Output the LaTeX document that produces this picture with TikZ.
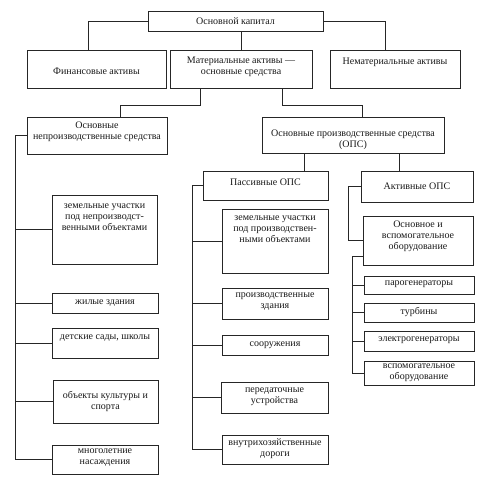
\documentclass[tikz,border=0pt]{standalone}
\usepackage{fontspec}
\setmainfont{Liberation Serif}
\tikzset{
 box/.style={draw=black!85, line width=0.8pt, inner sep=0pt, anchor=center},
 lbl/.style={font=\fontsize{10}{11}\selectfont, align=center, inner sep=0pt, text=black!90},
 conn/.style={draw=black!85, line width=0.7pt},
}
\newcommand\mybox[7]{%
 \node[box, minimum width={#4-#2}, minimum height={#5-#3}] (#1) at ({(#2+#4)/2},{(#3+#5)/2}) {};
 \node[lbl] (#1t) at ({(#2+#4)/2},#6) {#7};}
\begin{document}
\begin{tikzpicture}[x=1pt,y=-1pt]
\fill[white] (0,0) rectangle (498,483);
\useasboundingbox (0,0) rectangle (498,483);
\mybox{top}{148}{11}{323}{31}{21}{Основной капитал}
\mybox{fin}{27}{50}{166}{88}{71}{Финансовые активы}
\mybox{mat}{170}{50}{312}{88}{66.5}{Материальные активы —\\основные средства}
\mybox{neh}{330}{50}{460}{88}{62}{Нематериальные активы}
\mybox{nep}{27}{117}{167}{154}{132}{Основные\\непроизводственные средства}
\mybox{ops}{262}{117}{444}{153}{139.5}{Основные производственные средства\\(ОПС)}
\mybox{pas}{203}{171}{328}{200}{182}{Пассивные ОПС}
\mybox{act}{361}{171}{473}{202}{186}{Активные ОПС}
\mybox{zem1}{52}{195}{157}{264}{217.5}{земельные участки\\под непроизводст-\\венными объектами}
\mybox{zhil}{52}{293}{158}{313}{303}{жилые здания}
\mybox{det}{52}{328}{158}{358}{338}{детские сады, школы}
\mybox{obj}{53}{380}{158}{423}{401}{объекты культуры и\\спорта}
\mybox{mnog}{52}{445}{158}{474}{457.5}{многолетние\\насаждения}
\mybox{zem2}{222}{209}{328}{273}{229}{земельные участки\\под производствен-\\ными объектами}
\mybox{proiz}{222}{288}{328}{319}{301.5}{производственные\\здания}
\mybox{soor}{222}{335}{328}{355}{345.5}{сооружения}
\mybox{pered}{221}{382}{328}{413}{397}{передаточные\\устройства}
\mybox{vnut}{222}{435}{328}{464}{448.5}{внутрихозяйственные\\дороги}
\mybox{osn}{363}{216}{473}{265}{236}{Основное и\\вспомогательное\\оборудование}
\mybox{par}{364}{276}{474}{294}{284.5}{парогенераторы}
\mybox{tur}{364}{303}{474}{322}{312}{турбины}
\mybox{el}{364}{331}{474}{351}{340.5}{электрогенераторы}
\mybox{vsp}{364}{361}{474}{385}{373}{вспомогательное\\оборудование}
\coordinate (tn) at (15,0);
\coordinate (tp) at (192,0);
\coordinate (ta) at (348,0);
\coordinate (ti) at (352,0);
\draw[conn] (top.west) -| ([xshift=-8.5pt]fin.north);
\draw[conn] (top.east) -| ([xshift=-10pt]neh.north);
\draw[conn] (top.south -| mat.north) -- (mat.north);
\draw[conn] ([xshift=-41pt]mat.south) -- ++(0,17) -| ([xshift=23pt]nep.north);
\draw[conn] ([xshift=41pt]mat.south) -- ++(0,17) -| ([xshift=9pt]ops.north);
\draw[conn] ([xshift=-49pt]ops.south) -- ([xshift=-49pt]ops.south |- pas.north);
\draw[conn] ([xshift=46pt]ops.south) -- ([xshift=46pt]ops.south |- act.north);
\draw[conn] (nep.west) -| (tn |- mnog.west) -- (mnog.west);
\foreach \c in {zem1,zhil,det,obj} \draw[conn] (tn |- \c.west) -- (\c.west);
\draw[conn] (pas.west) -| (tp |- vnut.west) -- (vnut.west);
\foreach \c in {zem2,proiz,soor,pered} \draw[conn] (tp |- \c.west) -- (\c.west);
\draw[conn] (act.west) -| (ta |- osn.west) -- (osn.west);
\draw[conn] ([yshift=-16pt]osn.west) -| (ti |- vsp.west) -- (vsp.west);
\foreach \c in {par,tur,el} \draw[conn] (ti |- \c.west) -- (\c.west);
\end{tikzpicture}
\end{document}
